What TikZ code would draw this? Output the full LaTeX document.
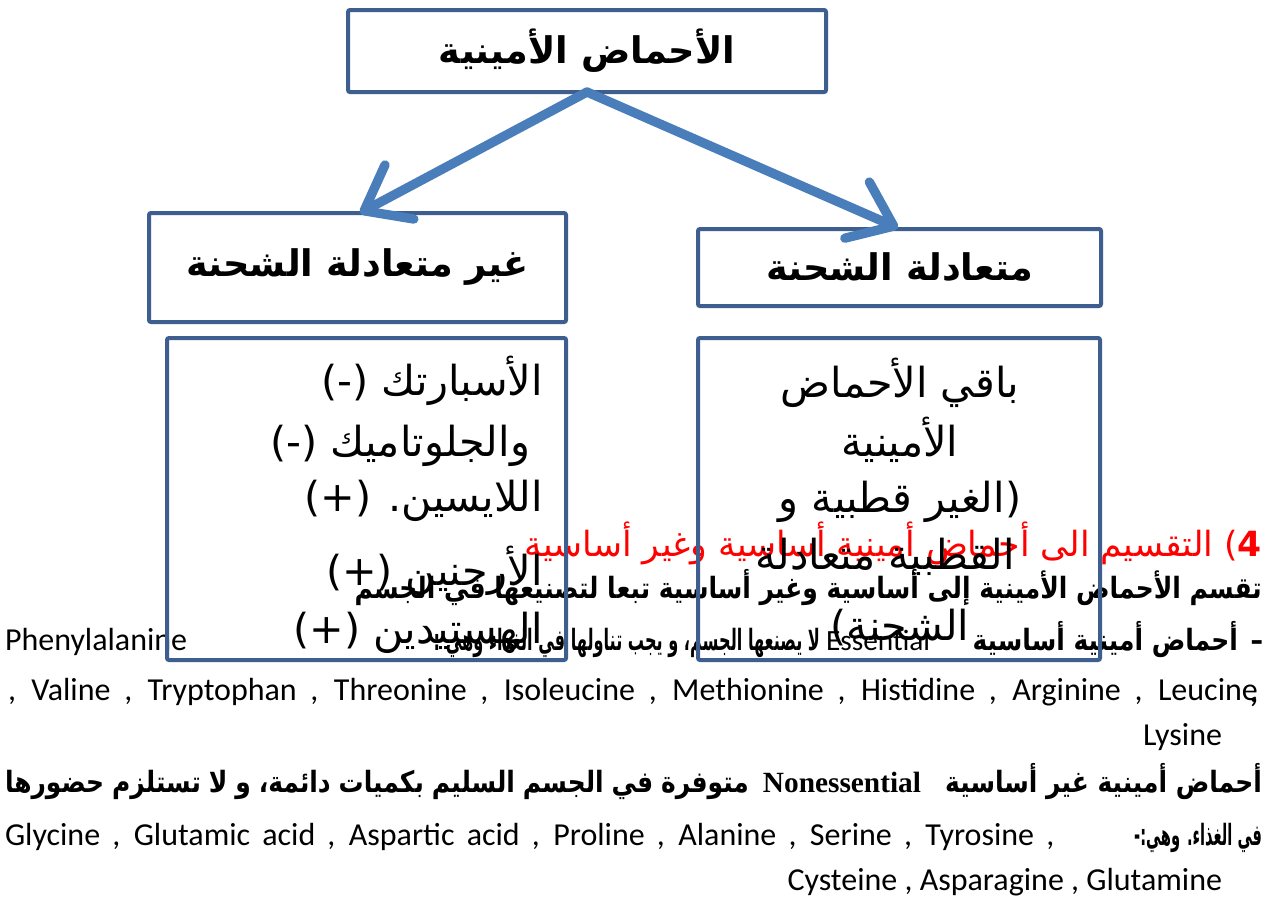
\documentclass[tikz,border=0pt]{standalone}
\usepackage{fontspec}
\setmainfont{Carlito}
\newfontfamily\arabicfont[Script=Arabic]{DejaVu Sans}
\newfontfamily\arabicnarrow[Script=Arabic, FakeStretch=0.85]{DejaVu Sans}
\newfontfamily\arabicthin[Script=Arabic, FakeStretch=0.55]{DejaVu Sans}
\newfontfamily\arabicthinner[Script=Arabic, FakeStretch=0.5]{DejaVu Sans}
\newfontfamily\serifbold{Liberation Serif}
\TeXXeTstate=1
\usetikzlibrary{arrows.meta}

\definecolor{boxblue}{RGB}{61,94,143}
\definecolor{arrowblue}{RGB}{74,126,187}

\newcommand{\artext}[1]{{\beginR #1\endR}}

\tikzset{
  catbox/.style={draw=boxblue, line width=3pt, rounded corners=1.5pt},
  headtext/.style={font=\fontsize{27.5pt}{32pt}\selectfont\arabicfont\bfseries},
  listtext/.style={font=\fontsize{31pt}{36pt}\selectfont\arabicfont},
  redtext/.style={font=\fontsize{26pt}{30pt}\selectfont\arabicfont, text=red},
  boldtext/.style={font=\fontsize{22pt}{26pt}\selectfont\arabicnarrow\bfseries},
  latintext/.style={font=\fontsize{24pt}{28pt}\selectfont},
  branch/.style={draw=arrowblue, line width=7pt, line cap=round,
    -{Straight Barb[length=30pt, width=46pt, round]}}
}

\begin{document}
\begin{tikzpicture}[x=0.75pt, y=-0.75pt, every node/.style={inner sep=0pt, outer sep=0pt}]

\useasboundingbox (0,0) rectangle (1267,896);
\fill[white] (0,0) rectangle (1267,896);

% text of the page below the chart
\node [redtext, anchor=base east] (sect) at (1262,556)
  {\artext{\textbf{4}) التقسيم الى أحماض أمينية أساسية وغير أساسية}};
\node [boldtext, anchor=base east] (intro) at (1262,598)
  {\artext{تقسم الأحماض الأمينية إلى أساسية وغير أساسية تبعا لتصنيعها في الجسم}};

\node [boldtext, anchor=base east] (essDash) at (1263,650) {–};
\node [boldtext, anchor=base east] (essA) at (1238,650)
  {\artext{أحماض أمينية أساسية}};
\node [latintext, font=\fontsize{22pt}{24pt}\selectfont, anchor=base west] (essB) at (826,650) {Essential};
\node [boldtext, font=\fontsize{22pt}{26pt}\selectfont\arabicthin\bfseries, anchor=base east] (essC) at (820,650)
  {\artext{لا يصنعها الجسم، و يجب تناولها في الغذاء وهي :}};
\node [latintext, anchor=base west] (essD) at (5,650) {Phenylalanine};

\node [latintext, anchor=base west] (essList) at (8,700)
  {\makebox[937.5pt][s]{, Valine , Tryptophan , Threonine , Isoleucine , Methionine , Histidine , Arginine , Leucine}};
\node [latintext, anchor=base east] (essComma) at (1258,702) {\textbf{,}};
\node [latintext, anchor=base east] (essLast) at (1222,745) {Lysine};

\node [boldtext, anchor=base east] (nonA) at (1262,792)
  {\artext{أحماض أمينية غير أساسية}};
\node [font=\fontsize{22pt}{24pt}\selectfont\serifbold\bfseries, anchor=base] (nonB) at (842,792) {Nonessential};
\node [boldtext, anchor=base west] (nonC) at (5,792)
  {\makebox[558pt][s]{\artext{متوفرة في الجسم السليم بكميات دائمة، و لا تستلزم حضورها}}};

\node [boldtext, font=\fontsize{22pt}{26pt}\selectfont\arabicthinner\bfseries, anchor=base east] (nonD) at (1262,845)
  {\artext{في الغذاء. وهي:-}};
\node [latintext, anchor=base west] (nonList) at (5,845)
  {\makebox[787pt][s]{Glycine , Glutamic acid , Aspartic acid , Proline , Alanine , Serine , Tyrosine ,}};
\node [latintext, anchor=base east] (nonLast) at (1222,890) {Cysteine , Asparagine , Glutamine};

% lines inside the two lower boxes
\node [listtext, anchor=base east] (acid1) at (543,395) {\artext{الأسبارتك (-)}};
\node [listtext, anchor=base east] (acid2) at (530,456) {\artext{والجلوتاميك (-)}};
\node [listtext, anchor=base east] (base1) at (543,511) {\artext{اللايسين. (+)}};
\node [listtext, anchor=base east] (base2) at (543,585) {\artext{الأرجنين (+)}};
\node [listtext, anchor=base east] (base3) at (543,643) {\artext{الهستيدين (+)}};

\node [listtext, anchor=base] (rest1) at (900,397) {\artext{باقي الأحماض}};
\node [listtext, anchor=base] (rest2) at (900,456) {\artext{الأمينية}};
\node [listtext, anchor=base] (rest3) at (900,512) {\artext{(الغير قطبية و}};
\node [listtext, anchor=base] (rest4) at (885,569) {\artext{القطبية متعادلة}};
\node [listtext, anchor=base] (rest5) at (900,640) {\artext{الشحنة)}};

% boxes
\node [catbox, headtext, minimum width=358.5pt, minimum height=61.5pt] (amino) at (587,51)
  {\artext{الأحماض الأمينية}};
\node [catbox, headtext, minimum width=312.75pt, minimum height=81.75pt] (charged) at (357.5,267.5)
  {\artext{غير متعادلة الشحنة}};
\node [catbox, headtext, minimum width=302.25pt, minimum height=57.75pt] (neutral) at (899.5,267.5)
  {\artext{متعادلة الشحنة}};
\node [catbox, minimum width=299.25pt, minimum height=241.5pt] (chargedlist) at (366.5,499) {};
\node [catbox, minimum width=301.5pt, minimum height=241.5pt] (neutrallist) at (899,499) {};

% arrows
\coordinate (chargedhit) at (360,213);
\coordinate (neutralhit) at (898,228);
\draw [branch] (amino.south) -- (chargedhit);
\draw [branch] (amino.south) -- (neutralhit);

\end{tikzpicture}
\end{document}
